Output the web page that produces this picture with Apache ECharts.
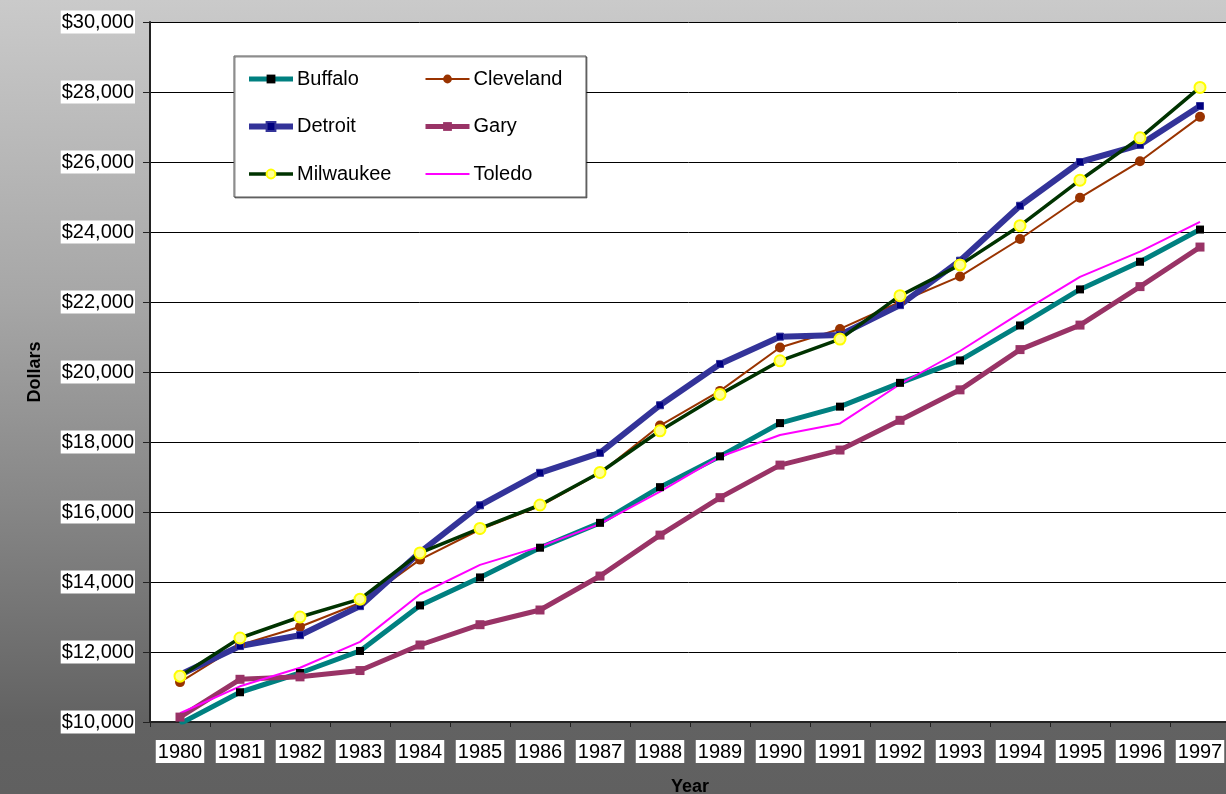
<!DOCTYPE html>
<html>
<head>
<meta charset="utf-8">
<script src="https://cdn.jsdelivr.net/npm/echarts@6/dist/echarts.min.js"></script>
<style>
  html, body { margin: 0; padding: 0; }
  #myChart { width: 1226px; height: 794px; }
</style>
</head>
<body>
<div id="myChart"></div>
<script>
// 年份
const years = ["1980", "1981", "1982", "1983", "1984", "1985", "1986", "1987", "1988",
  "1989", "1990", "1991", "1992", "1993", "1994", "1995", "1996", "1997"];
// 各城市数值
const buffalo = [9950, 10850, 11400, 12030, 13330, 14130, 14980, 15690, 16710,
  17590, 18540, 19010, 19690, 20330, 21330, 22360, 23150, 24070];
const cleveland = [11140, 12200, 12720, 13400, 14640, 15500, 16170, 17110, 18470,
  19460, 20700, 21230, 22000, 22730, 23800, 24980, 26020, 27290];
const detroit = [11350, 12170, 12480, 13310, 14850, 16190, 17120, 17690, 19050,
  20230, 21010, 21060, 21910, 23180, 24750, 26000, 26490, 27600];
const gary = [10140, 11220, 11290, 11470, 12200, 12780, 13200, 14170, 15340,
  16410, 17340, 17770, 18620, 19490, 20640, 21340, 22440, 23570];
const milwaukee = [11310, 12400, 13000, 13510, 14830, 15530, 16200, 17130, 18320,
  19360, 20320, 20940, 22180, 23060, 24180, 25480, 26690, 28130];
const toledo = [10250, 11020, 11550, 12290, 13650, 14490, 15010, 15660, 16580,
  17580, 18200, 18530, 19650, 20600, 21680, 22720, 23440, 24290];
// y轴范围
const yMin = 10000;
const yMax = 30000;
const yStep = 2000;

const font = "'Liberation Sans', Arial, sans-serif";

let myChart = echarts.init(document.getElementById("myChart"));

// 折线公共设置
function lineSeries(name, data, color, width, symbol, size, symColor, extra) {
  return Object.assign({
    name: name,
    type: "line",
    data: data,
    symbol: symbol,
    symbolSize: size,
    showAllSymbol: true,
    lineStyle: { color: color, width: width },
    itemStyle: { color: symColor },
    emphasis: { disabled: true },
    animation: false
  }, extra || {});
}

// 图例项：线宽单独指定
function legendItem(name, width, hideSymbol) {
  let item = { name: name, lineStyle: { width: width } };
  if (hideSymbol) {
    item.itemStyle = { color: "rgba(0,0,0,0)", borderWidth: 0 };
  }
  return item;
}

let legendBase = {
  orient: "vertical",
  top: 64,
  itemWidth: 44,
  itemHeight: 11,
  itemGap: 27.5,
  selectedMode: false,
  textStyle: { fontSize: 20, color: "#000", fontFamily: font, padding: [0, 0, 0, -1] }
};

let option = {
  backgroundColor: {
    type: "linear",
    x: 0, y: 0, x2: 0, y2: 1,
    colorStops: [
      { offset: 0, color: "#cacaca" },
      { offset: 0.38, color: "#a6a6a6" },
      { offset: 0.63, color: "#878787" },
      { offset: 0.91, color: "#626262" },
      { offset: 1, color: "#606060" }
    ]
  },
  textStyle: { fontFamily: font },
  grid: {
    show: true,
    left: 150,
    top: 22,
    width: 1080,
    height: 700,
    outerBoundsMode: "none",
    backgroundColor: "#fff",
    borderWidth: 0,
    containLabel: false
  },
  // 图例框
  graphic: [
    {
      type: "rect",
      z: 3,
      shape: { x: 234, y: 56, width: 352, height: 141 },
      style: {
        fill: "#fff",
        stroke: "#555",
        lineWidth: 1,
        shadowColor: "rgba(0,0,0,0.45)",
        shadowOffsetX: 1,
        shadowOffsetY: 1
      }
    }
  ],
  legend: [
    Object.assign({}, legendBase, {
      left: 241,
      data: [legendItem("Buffalo", 5), legendItem("Detroit", 6), legendItem("Milwaukee", 3.5)]
    }),
    Object.assign({}, legendBase, {
      left: 418,
      data: [legendItem("Cleveland", 2), legendItem("Gary", 5), legendItem("Toledo", 2, true)]
    })
  ],
  xAxis: {
    type: "category",
    data: years,
    boundaryGap: true,
    name: "Year",
    nameLocation: "middle",
    nameGap: 56,
    nameTextStyle: { fontSize: 18, fontWeight: "bold", color: "#000", fontFamily: font },
    axisLine: { show: true, lineStyle: { color: "#222", width: 2 } },
    axisTick: { show: true, interval: 0, length: 5, lineStyle: { color: "#222" } },
    axisLabel: {
      interval: 0,
      margin: 18,
      fontSize: 20,
      color: "#000",
      fontFamily: font,
      backgroundColor: "#fff",
      padding: [2, 2, 1, 2]
    },
    splitLine: { show: false }
  },
  yAxis: {
    type: "value",
    min: yMin,
    max: yMax,
    interval: yStep,
    name: "Dollars",
    nameLocation: "middle",
    nameGap: 106,
    nameTextStyle: { fontSize: 18, fontWeight: "bold", color: "#000", fontFamily: font },
    axisLine: { show: true, lineStyle: { color: "#222", width: 2 } },
    axisTick: { show: true, length: 7, lineStyle: { color: "#222" } },
    axisLabel: {
      margin: 15,
      fontSize: 20,
      color: "#000",
      fontFamily: font,
      backgroundColor: "#fff",
      padding: [2, 1, 1, 1],
      formatter: v => "$" + v.toLocaleString("en-US")
    },
    splitLine: { show: true, lineStyle: { color: "#000", width: 1 } }
  },
  series: [
    lineSeries("Buffalo", buffalo, "#008080", 5, "rect", 8, "#000"),
    lineSeries("Cleveland", cleveland, "#993300", 2, "circle", 10, "#993300"),
    lineSeries("Detroit", detroit, "#333399", 6, "rect", 7, "#000080",
      { itemStyle: { color: "#000080", borderColor: "#333399", borderWidth: 1 } }),
    lineSeries("Gary", gary, "#993366", 5, "rect", 9, "#993366"),
    lineSeries("Milwaukee", milwaukee, "#003300", 3.5, "circle", 11, "#ffff99",
      { itemStyle: { color: "#ffff99", borderColor: "#ffff00", borderWidth: 2 } }),
    lineSeries("Toledo", toledo, "#ff00ff", 2, "none", 0, "#ff00ff")
  ]
};

myChart.setOption(option);
</script>
</body>
</html>
